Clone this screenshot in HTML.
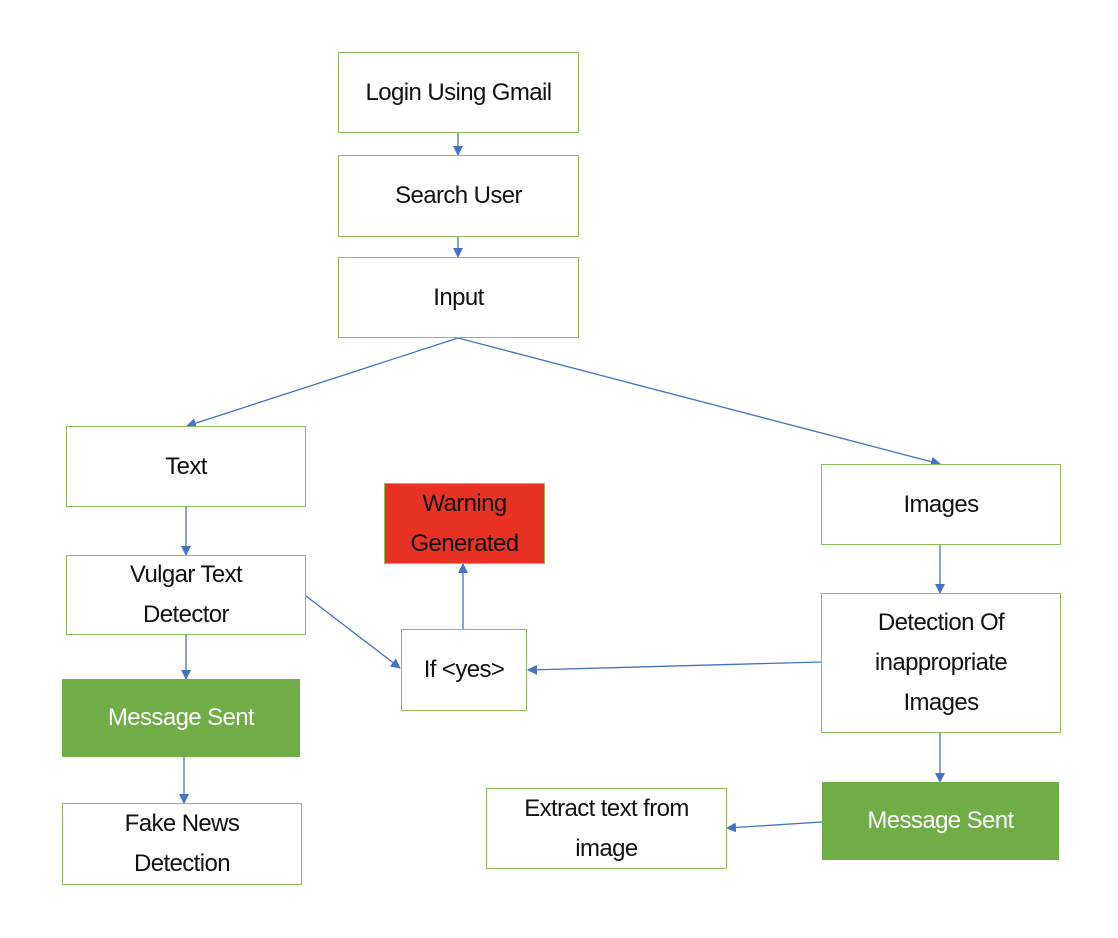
<!DOCTYPE html>
<html><head><meta charset="utf-8"><style>
body{margin:0;width:1118px;height:938px;background:#fff;position:relative;overflow:hidden;font-family:"Liberation Sans",sans-serif}
.b{position:absolute;box-sizing:border-box;border:1.5px solid #8dbb5e;background:#fff;display:flex;align-items:center;justify-content:center;text-align:center;font-size:24px;line-height:40px;color:#111;letter-spacing:-0.6px}
.g{background:#70ad47;border-color:#70ad47;color:#fff}
.r{background:#e83324;border-color:#8dbb5e;color:#111}
svg{position:absolute;left:0;top:0}
</style></head><body>
<svg width="1118" height="938">
<defs><marker id="a" markerWidth="10" markerHeight="10" refX="9" refY="5" orient="auto" markerUnits="userSpaceOnUse"><path d="M0,0 L10,5 L0,10 z" fill="#4472c4"/></marker></defs>
<g stroke="#4472c4" stroke-width="1.3" fill="none" marker-end="url(#a)">
<line x1="458" y1="133" x2="458" y2="155"/>
<line x1="458" y1="237" x2="458" y2="257"/>
<line x1="458" y1="338" x2="187" y2="426"/>
<line x1="458" y1="338" x2="940" y2="464"/>
<line x1="186" y1="507" x2="186" y2="555"/>
<line x1="186" y1="635" x2="186" y2="679"/>
<line x1="184" y1="757" x2="184" y2="803"/>
<line x1="306" y1="596" x2="400" y2="668"/>
<line x1="463" y1="629" x2="463" y2="564"/>
<line x1="821" y1="662" x2="528" y2="670"/>
<line x1="940" y1="545" x2="940" y2="593"/>
<line x1="940" y1="733" x2="940" y2="782"/>
<line x1="822" y1="822" x2="727" y2="828"/>
</g></svg>
<div class="b" style="left:338px;top:52px;width:241px;height:81px">Login Using Gmail</div>
<div class="b" style="left:338px;top:155px;width:241px;height:82px">Search User</div>
<div class="b" style="left:338px;top:257px;width:241px;height:81px">Input</div>
<div class="b" style="left:66px;top:426px;width:240px;height:81px">Text</div>
<div class="b" style="left:66px;top:555px;width:240px;height:80px">Vulgar Text<br>Detector</div>
<div class="b g" style="left:62px;top:679px;width:238px;height:78px">Message Sent</div>
<div class="b" style="left:62px;top:803px;width:240px;height:82px">Fake News<br>Detection</div>
<div class="b r" style="left:384px;top:483px;width:161px;height:81px">Warning<br>Generated</div>
<div class="b" style="left:401px;top:629px;width:126px;height:82px">If &lt;yes&gt;</div>
<div class="b" style="left:821px;top:464px;width:240px;height:81px">Images</div>
<div class="b" style="left:821px;top:593px;width:240px;height:140px">Detection Of<br>inappropriate<br>Images</div>
<div class="b g" style="left:822px;top:782px;width:237px;height:78px">Message Sent</div>
<div class="b" style="left:486px;top:788px;width:241px;height:81px">Extract text from<br>image</div>
</body></html>
